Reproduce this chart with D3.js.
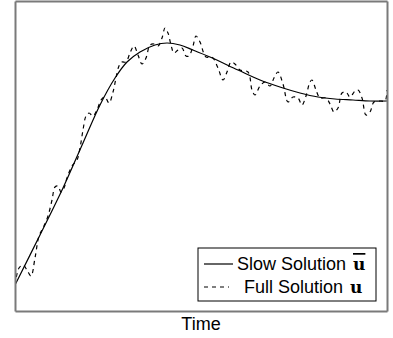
<!DOCTYPE html>
<html>
<head>
<meta charset="utf-8">
<script src="https://cdn.jsdelivr.net/npm/d3@7"></script>
<style>
  html, body { margin: 0; padding: 0; background: #fff; }
  svg { display: block; font-family: "Liberation Sans", Arial, sans-serif; }
</style>
</head>
<body>
<svg id="chart"></svg>
<script>
// slow solution (averaged), sampled in time
const slowTime = [0, 0.25, 0.48, 0.68, 0.85, 1.00, 1.12, 1.25, 1.40, 1.52, 1.65, 1.78, 1.95, 2.23, 2.45, 2.68, 2.85, 3.03, 3.20, 3.38, 3.55, 3.72];
const slowValue = [0.26, 0.76, 1.23, 1.68, 2.06, 2.33, 2.49, 2.59, 2.66, 2.68, 2.66, 2.61, 2.54, 2.41, 2.31, 2.23, 2.18, 2.14, 2.12, 2.11, 2.10, 2.10];

// full solution with the fast oscillation
const fullTime = [0, 0.04, 0.08, 0.12, 0.16, 0.20, 0.24, 0.28, 0.33, 0.37, 0.40, 0.43, 0.46, 0.49, 0.52, 0.57, 0.62, 0.65, 0.68, 0.71, 0.74, 0.78, 0.82, 0.86, 0.90, 0.94, 0.98, 1.01, 1.04, 1.07, 1.11, 1.15, 1.19, 1.23, 1.27, 1.31, 1.35, 1.39, 1.43, 1.47, 1.50, 1.53, 1.56, 1.59, 1.63, 1.67, 1.71, 1.74, 1.78, 1.81, 1.85, 1.91, 1.97, 2.03, 2.08, 2.12, 2.16, 2.20, 2.25, 2.33, 2.37, 2.40, 2.45, 2.50, 2.55, 2.59, 2.63, 2.68, 2.73, 2.78, 2.83, 2.87, 2.91, 2.95, 2.97, 3.01, 3.05, 3.11, 3.15, 3.19, 3.23, 3.27, 3.31, 3.35, 3.40, 3.43, 3.47, 3.51, 3.55, 3.59, 3.65, 3.70, 3.72];
const fullValue = [0.26, 0.43, 0.46, 0.41, 0.35, 0.53, 0.75, 0.83, 0.95, 1.11, 1.24, 1.25, 1.19, 1.23, 1.33, 1.45, 1.51, 1.63, 1.81, 1.95, 1.98, 1.95, 2.01, 2.11, 2.14, 2.08, 2.19, 2.33, 2.45, 2.49, 2.49, 2.58, 2.65, 2.56, 2.47, 2.53, 2.66, 2.67, 2.65, 2.73, 2.83, 2.78, 2.66, 2.58, 2.61, 2.63, 2.55, 2.55, 2.65, 2.75, 2.69, 2.54, 2.54, 2.43, 2.31, 2.39, 2.49, 2.47, 2.41, 2.39, 2.21, 2.16, 2.25, 2.29, 2.25, 2.33, 2.39, 2.27, 2.09, 2.14, 2.13, 2.06, 2.15, 2.29, 2.31, 2.21, 2.13, 2.13, 2.07, 1.99, 2.03, 2.18, 2.19, 2.14, 2.20, 2.21, 2.13, 1.96, 1.99, 2.09, 2.10, 2.10, 2.21];

const xLabel = "Time";
const legendNames = ["Slow Solution", "Full Solution"];
const legendSymbols = ["u", "u"];

const width = 393, height = 338;
const margin = {top: 1, right: 6, bottom: 27, left: 15};
const innerW = width - margin.left - margin.right,
  innerH = height - margin.top - margin.bottom;

const svg = d3.select("#chart")
  .attr("width", width)
  .attr("height", height);

const g = svg.append("g")
  .attr("transform", "translate(" + margin.left + "," + margin.top + ")");

const xScale = d3.scaleLinear().domain([0, 3.72]).range([0, innerW]);
const yScale = d3.scaleLinear().domain([0, 3.1]).range([innerH, 0]);

g.append("clipPath").attr("id", "plot-clip")
  .append("rect").attr("width", innerW).attr("height", innerH);

const slowData = slowTime.map((t, i) => ({t: t, v: slowValue[i]}));
const fullData = fullTime.map((t, i) => ({t: t, v: fullValue[i]}));

const line = d3.line()
  .x(d => xScale(d.t))
  .y(d => yScale(d.v))
  .curve(d3.curveCatmullRom);

g.append("path")
  .datum(fullData)
  .attr("clip-path", "url(#plot-clip)")
  .attr("fill", "none")
  .attr("stroke", "#000")
  .attr("stroke-width", 1.2)
  .attr("stroke-dasharray", "4,4")
  .attr("d", line);

g.append("path")
  .datum(slowData)
  .attr("clip-path", "url(#plot-clip)")
  .attr("fill", "none")
  .attr("stroke", "#000")
  .attr("stroke-width", 1.2)
  .attr("d", line);

// frame: four axes without ticks
const frame = [
  [d3.axisBottom(xScale), "translate(0," + innerH + ")"],
  [d3.axisTop(xScale), "translate(0,0)"],
  [d3.axisLeft(yScale), "translate(0,0)"],
  [d3.axisRight(yScale), "translate(" + innerW + ",0)"]
];
frame.forEach(([ax, tr]) => {
  const a = g.append("g")
    .attr("transform", tr)
    .call(ax.tickValues([]).tickSizeOuter(0));
  a.select(".domain")
    .attr("stroke", "#7a7a7a")
    .attr("stroke-width", 2);
});

g.append("text")
  .attr("x", innerW / 2)
  .attr("y", innerH + 19)
  .attr("text-anchor", "middle")
  .attr("font-size", 18)
  .attr("fill", "#000")
  .text(xLabel);

// legend
const lg = svg.append("g").attr("transform", "translate(198,248)");
lg.append("rect")
  .attr("width", 178)
  .attr("height", 53)
  .attr("fill", "#fff")
  .attr("stroke", "#000")
  .attr("stroke-width", 1);

lg.append("line")
  .attr("x1", 6).attr("x2", 35)
  .attr("y1", 16).attr("y2", 16)
  .attr("stroke", "#000").attr("stroke-width", 1.2);
lg.append("line")
  .attr("x1", 6).attr("x2", 31)
  .attr("y1", 39).attr("y2", 39)
  .attr("stroke", "#000").attr("stroke-width", 1.2)
  .attr("stroke-dasharray", "4,4");

const rows = [{x: 39, sx: 155, y: 22}, {x: 46, sx: 152, y: 45}];
rows.forEach((r, i) => {
  lg.append("text")
    .attr("x", r.x)
    .attr("y", r.y)
    .attr("font-size", 18)
    .attr("fill", "#000")
    .text(legendNames[i]);
  lg.append("text")
    .attr("x", r.sx)
    .attr("y", r.y)
    .attr("font-family", "'DejaVu Serif', serif")
    .attr("font-weight", "bold")
    .attr("font-size", 17)
    .attr("fill", "#000")
    .style("text-decoration", i === 0 ? "overline" : "none")
    .text(legendSymbols[i]);
});
</script>
</body>
</html>
